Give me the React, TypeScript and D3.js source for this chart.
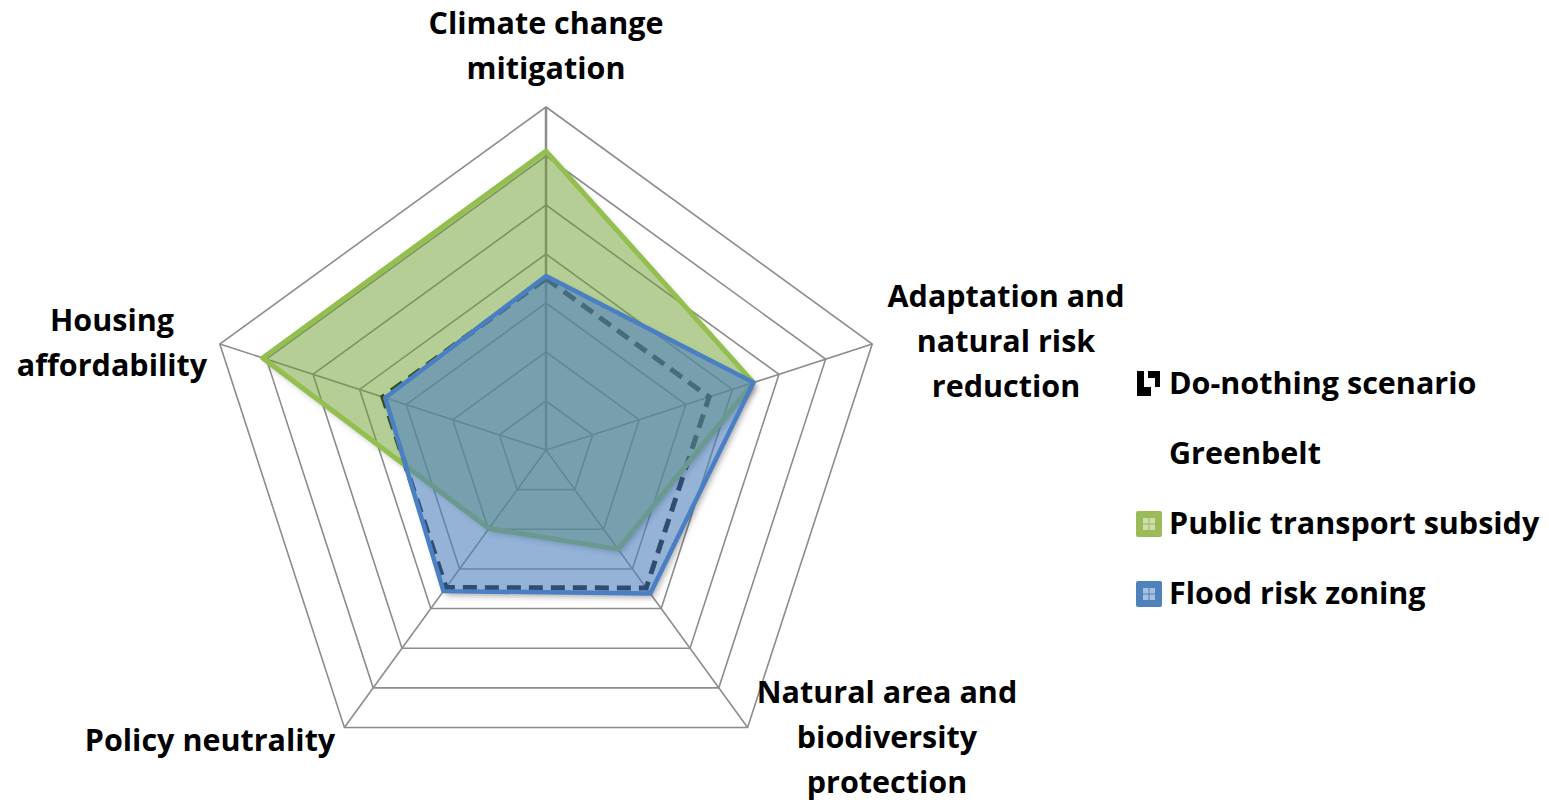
import { useRef, useEffect } from "react";
import * as d3 from "d3";

// axes, clockwise from the top
const axes = [
  ["Climate change", "mitigation"],
  ["Adaptation and", "natural risk", "reduction"],
  ["Natural area and", "biodiversity", "protection"],
  ["Policy neutrality"],
  ["Housing", "affordability"],
];

const doNothing = [3.5, 3.5, 3.48, 3.47, 3.5];
const transportSubsidy = [6.1, 4.45, 2.5, 1.98, 6.08];
const floodZoning = [3.55, 4.45, 3.62, 3.56, 3.45];

const legendLabels = [
  "Do-nothing scenario",
  "Greenbelt",
  "Public transport subsidy",
  "Flood risk zoning",
];

const levels = d3.range(1, 8);

const width = 1549;
const height = 803;
const cx = 546;
const cy = 450;
const radius = 343;
const font = "'Open Sans', sans-serif";
const fontSize = 30.5;

const labelPos = [
  { x: 546, y: 34, anchor: "middle" },
  { x: 1006, y: 307, anchor: "middle" },
  { x: 887, y: 703, anchor: "middle" },
  { x: 210, y: 751, anchor: "middle" },
  { x: 112, y: 331, anchor: "middle" },
];

export default function App() {
  const svgRef = useRef(null);

  useEffect(() => {
    const svg = d3.select(svgRef.current);
    svg.selectAll("*").remove();

    const defs = svg.append("defs");
    const blur = defs
      .append("filter")
      .attr("id", "blur")
      .attr("x", "-20%")
      .attr("y", "-20%")
      .attr("width", "140%")
      .attr("height", "140%");
    blur.append("feGaussianBlur").attr("stdDeviation", 3);

    const r = d3.scaleLinear().domain([0, 7]).range([0, radius]);
    const angle = d3
      .scaleLinear()
      .domain([0, axes.length])
      .range([0, 2 * Math.PI]);

    const g = svg.append("g").attr("transform", `translate(${cx},${cy})`);

    const radial = d3
      .lineRadial<number>()
      .angle((_, i) => angle(i))
      .radius((d) => r(d))
      .curve(d3.curveLinearClosed);

    // grid rings
    g.selectAll(".ring")
      .data(levels)
      .enter()
      .append("path")
      .attr("d", (l) => radial(axes.map(() => l)))
      .attr("fill", "none")
      .attr("stroke", "#8c8c8c")
      .attr("stroke-width", 1.6);

    // spokes
    g.selectAll(".spoke")
      .data(axes)
      .enter()
      .append("line")
      .attr("x1", 0)
      .attr("y1", 0)
      .attr("x2", (_, i) => r(7) * Math.sin(angle(i)))
      .attr("y2", (_, i) => -r(7) * Math.cos(angle(i)))
      .attr("stroke", "#8c8c8c")
      .attr("stroke-width", (_, i) => (i === 0 ? 2.5 : 1.6));

    // do-nothing scenario
    g.append("path")
      .attr("d", radial(doNothing))
      .attr("fill", "none")
      .attr("stroke", "#000")
      .attr("stroke-width", 5)
      .attr("stroke-dasharray", "14 8");

    // filled series with a shadow that only shows outside the shape
    const filled = [
      { id: "pts", values: transportSubsidy, fill: "rgba(105,158,45,0.5)", stroke: "#93bf4e", sw: 5 },
      { id: "frz", values: floodZoning, fill: "rgba(79,129,189,0.6)", stroke: "#4a7fc4", sw: 4.5 },
    ];
    filled.forEach((s) => {
      const d = radial(s.values);
      const mask = defs
        .append("mask")
        .attr("id", `mask-${s.id}`)
        .attr("maskUnits", "userSpaceOnUse")
        .attr("x", -cx)
        .attr("y", -cy)
        .attr("width", width)
        .attr("height", height);
      mask
        .append("rect")
        .attr("x", -cx)
        .attr("y", -cy)
        .attr("width", width)
        .attr("height", height)
        .attr("fill", "#fff");
      mask.append("path").attr("d", d).attr("fill", "#000");

      g.append("g")
        .attr("mask", `url(#mask-${s.id})`)
        .append("path")
        .attr("d", d)
        .attr("transform", "translate(3,4)")
        .attr("fill", "rgba(0,0,0,0.35)")
        .attr("filter", "url(#blur)");

      g.append("path")
        .attr("d", d)
        .attr("fill", s.fill)
        .attr("stroke", s.stroke)
        .attr("stroke-width", s.sw)
        .attr("stroke-linejoin", "round");
    });

    // axis labels
    axes.forEach((lines, i) => {
      const p = labelPos[i];
      const t = svg
        .append("text")
        .attr("x", p.x)
        .attr("y", p.y)
        .attr("text-anchor", p.anchor)
        .attr("font-family", font)
        .attr("font-weight", "bold")
        .attr("font-size", fontSize)
        .attr("fill", "#000");
      lines.forEach((line, j) => {
        t.append("tspan")
          .attr("x", p.x)
          .attr("dy", j === 0 ? 0 : 45)
          .text(line);
      });
    });

    // legend
    const legend = svg.append("g").attr("transform", "translate(1135,383)");
    const rows = legend
      .selectAll(".row")
      .data(legendLabels)
      .enter()
      .append("g")
      .attr("transform", (_, i) => `translate(0,${i * 70})`);

    rows
      .append("text")
      .attr("x", 34)
      .attr("y", 11)
      .attr("font-family", font)
      .attr("font-weight", "bold")
      .attr("font-size", fontSize)
      .text((d) => d);

    // do-nothing marker
    const m0 = rows.filter((_, i) => i === 0);
    m0.append("path")
      .attr("d", "M2,-12 h7 v16 h7 v9 h-14 z")
      .attr("fill", "#000");
    m0.append("path")
      .attr("d", "M13,-12 h12 v16 h-5 v-9 h-7 z")
      .attr("fill", "#000");

    const boxColors = [null, null, "#9bbb59", "#4f81bd"];
    rows
      .filter((_, i) => boxColors[i] !== null)
      .each(function (_, k) {
        const row = d3.select(this);
        const col = boxColors[k + 2];
        row
          .append("rect")
          .attr("x", 1)
          .attr("y", -12)
          .attr("width", 26)
          .attr("height", 26)
          .attr("rx", 2)
          .attr("fill", col);
        [0, 1].forEach((a) =>
          [0, 1].forEach((b) =>
            row
              .append("rect")
              .attr("x", 8 + a * 6.5)
              .attr("y", -5 + b * 6.5)
              .attr("width", 5.5)
              .attr("height", 5.5)
              .attr("fill", "rgba(255,255,255,0.5)")
          )
        );
      });
  }, []);

  return (
    <svg
      ref={svgRef}
      width={width}
      height={height}
      style={{ position: "absolute", left: 0, top: 0, background: "#fff" }}
    />
  );
}
